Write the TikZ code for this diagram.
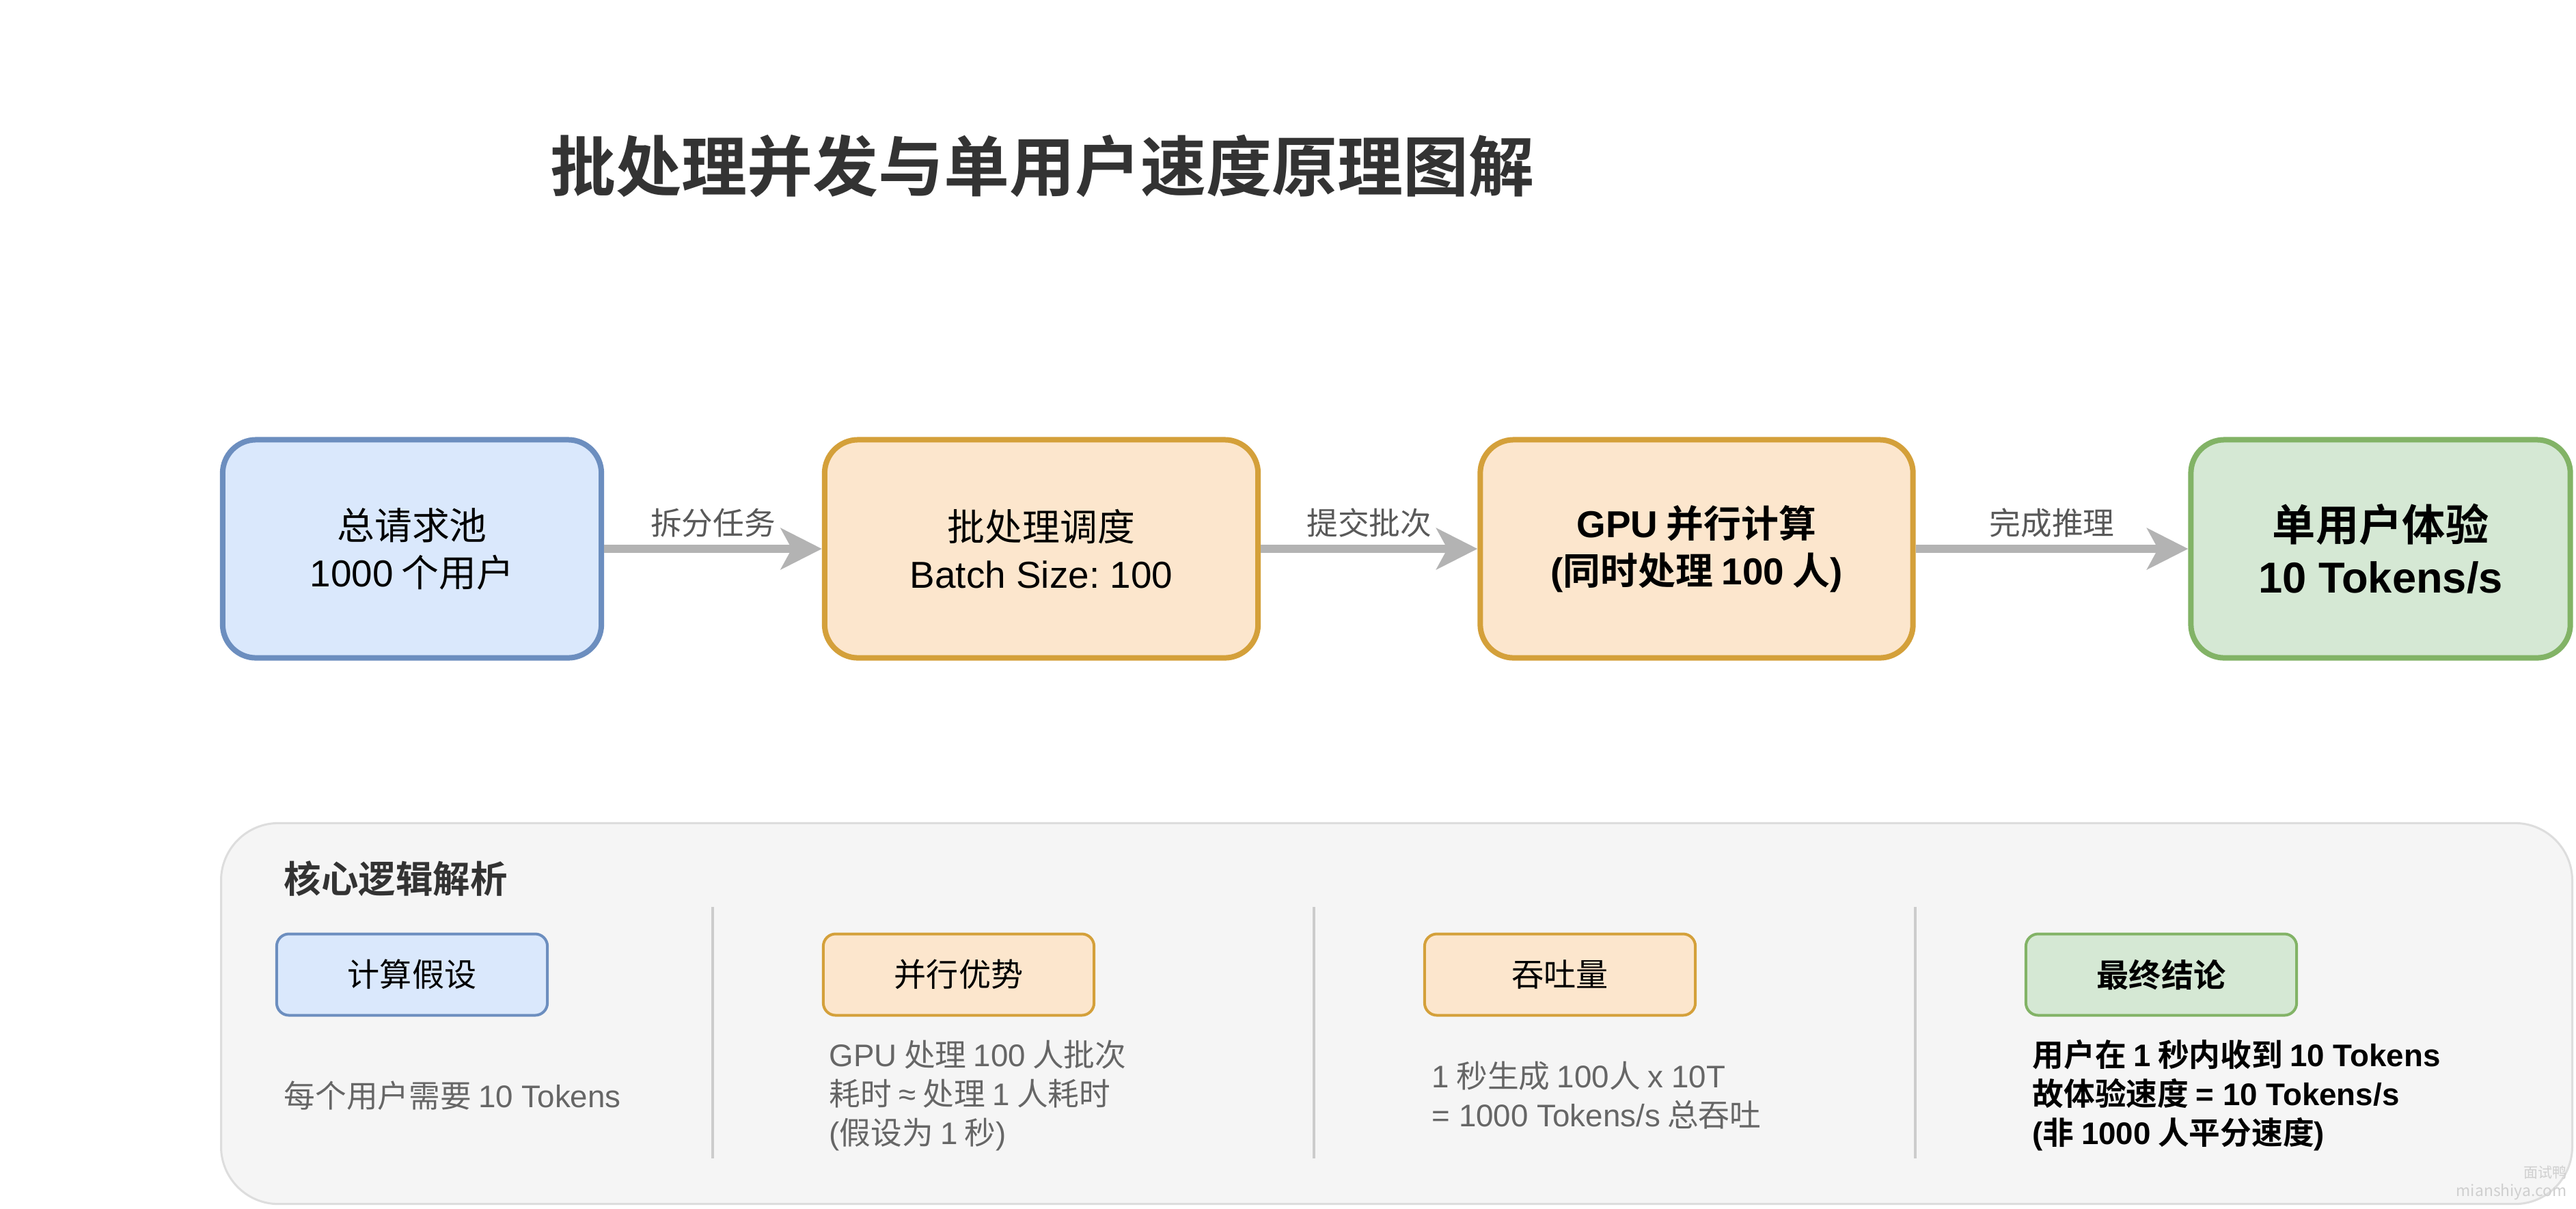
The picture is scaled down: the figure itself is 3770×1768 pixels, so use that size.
\documentclass[tikz,border=0pt]{standalone}
\usepackage{fontspec}
\setmainfont{Noto Sans CJK SC}[BoldFont={Noto Sans CJK SC Bold}]
\newfontfamily\latfam{Liberation Sans}
\newcommand{\en}[1]{{\latfam #1}}
\frenchspacing
\usetikzlibrary{arrows.meta}
\definecolor{bfill}{HTML}{DAE8FC}
\definecolor{bline}{HTML}{6C8EBF}
\definecolor{ofill}{HTML}{FCE6CD}
\definecolor{oline}{HTML}{D4A03A}
\definecolor{gfill}{HTML}{D5E8D4}
\definecolor{gline}{HTML}{82B366}
\definecolor{pfill}{HTML}{F5F5F5}
\definecolor{pline}{HTML}{DDDDDD}
\definecolor{divline}{HTML}{CCCCCC}
\definecolor{arrgray}{HTML}{B3B3B3}
\definecolor{titlec}{HTML}{333333}
\definecolor{descc}{HTML}{666666}
\definecolor{lblc}{HTML}{595959}
\definecolor{wmc}{HTML}{CFCFCF}
\tikzset{
  bigbox/.style={draw, rounded corners=0.49cm, line width=0.08cm, minimum height=3.19cm,
    align=center, inner sep=0pt, text=black, font=\fontsize{15.6pt}{19.6pt}\selectfont},
  smallbox/.style={draw, rounded corners=0.18cm, line width=0.04cm, minimum width=3.96cm,
    minimum height=1.19cm, align=center, inner sep=0pt, text=black, font=\fontsize{13.4pt}{16pt}\selectfont},
  blueS/.style={fill=bfill, draw=bline},
  orangeS/.style={fill=ofill, draw=oline},
  greenS/.style={fill=gfill, draw=gline},
  arr/.style={draw=arrgray, line width=0.12cm, -{Stealth[length=0.6cm, width=0.6cm, inset=0.16cm]}},
  lbl/.style={midway, yshift=0.38cm, text=lblc, inner sep=0pt, font=\fontsize{13pt}{15pt}\selectfont},
  desc/.style={anchor=west, align=left, inner sep=0pt, text=descc, font=\fontsize{13pt}{16.2pt}\selectfont},
  divider/.style={draw=divline, line width=0.035cm},
}
\begin{document}
\begin{tikzpicture}[x=0.01cm, y=-0.01cm]
\useasboundingbox[fill=white] (0,0) rectangle (3770,1768);
% title
\node[anchor=west, inner sep=0pt, text=titlec, font=\fontsize{27.3pt}{30pt}\selectfont\bfseries] (title) at (805,243) {批处理并发与单用户速度原理图解};
% main flow
\node[bigbox, blueS, minimum width=5.54cm] (b1) at (603,803) {总请求池\\\en{1000} 个用户};
\node[bigbox, orangeS, minimum width=6.34cm] (b2) at (1524,803) {批处理调度\\\en{Batch Size: 100}};
\node[bigbox, orangeS, minimum width=6.33cm, font=\fontsize{15.6pt}{19.6pt}\selectfont\bfseries] (b3) at (2483,803) {\en{GPU} 并行计算\\\en{(}同时处理 \en{100} 人\en{)}};
\node[bigbox, greenS, minimum width=5.55cm, font=\fontsize{18pt}{21.6pt}\selectfont\bfseries] (b4) at (3484,803) {单用户体验\\\en{10 Tokens/s}};
\draw[arr] (b1) -- node[lbl] (l1) {拆分任务} (b2);
\draw[arr] (b2) -- node[lbl] (l2) {提交批次} (b3);
\draw[arr] (b3) -- node[lbl] (l3) {完成推理} (b4);
% panel
\node[draw=pline, fill=pfill, line width=0.03cm, rounded corners=0.84cm, minimum width=34.39cm, minimum height=5.57cm, inner sep=0pt] (panel) at (2044,1483) {};
\node[anchor=west, inner sep=0pt, text=titlec, font=\fontsize{15.5pt}{18pt}\selectfont\bfseries] (ptitle) at (415,1286) {核心逻辑解析};
% dividers
\coordinate (d1a) at (1043,1327); \coordinate (d1b) at (1043,1695);
\coordinate (d2a) at (1923,1327); \coordinate (d2b) at (1923,1695);
\coordinate (d3a) at (2803,1327); \coordinate (d3b) at (2803,1695);
\draw[divider] (d1a) -- (d1b);
\draw[divider] (d2a) -- (d2b);
\draw[divider] (d3a) -- (d3b);
% small boxes
\node[smallbox, blueS] (s1) at (603,1426) {计算假设};
\node[smallbox, orangeS] (s2) at (1403,1426) {并行优势};
\node[smallbox, orangeS] (s3) at (2283,1426) {吞吐量};
\node[smallbox, greenS, font=\fontsize{13.4pt}{16pt}\selectfont\bfseries] (s4) at (3163,1426) {最终结论};
% descriptions
\node[desc] (t1) at (415,1603) {每个用户需要 \en{10 Tokens}};
\node[desc] (t2) at (1213,1603) {\en{GPU} 处理 \en{100} 人批次\\耗时 \en{≈} 处理 \en{1} 人耗时\\\en{(}假设为 \en{1} 秒\en{)}};
\node[desc] (t3) at (2095,1603) {\en{1} 秒生成 \en{100}人 \en{x 10T}\\\en{= 1000 Tokens/s} 总吞吐};
\node[desc, text=black, font=\fontsize{13pt}{16.2pt}\selectfont\bfseries] (t4) at (2974,1603) {用户在 \en{1} 秒内收到 \en{10 Tokens}\\故体验速度 \en{= 10 Tokens/s}\\\en{(}非 \en{1000} 人平分速度\en{)}};
% watermark
\node[anchor=east, inner sep=0pt, text=wmc, font=\fontsize{6pt}{7pt}\selectfont] (wm1) at (3757,1715) {面试鸭};
\node[anchor=east, inner sep=0pt, text=wmc, font=\fontsize{6.5pt}{7pt}\selectfont] (wm2) at (3757,1744) {mianshiya.com};
\end{tikzpicture}
\end{document}
